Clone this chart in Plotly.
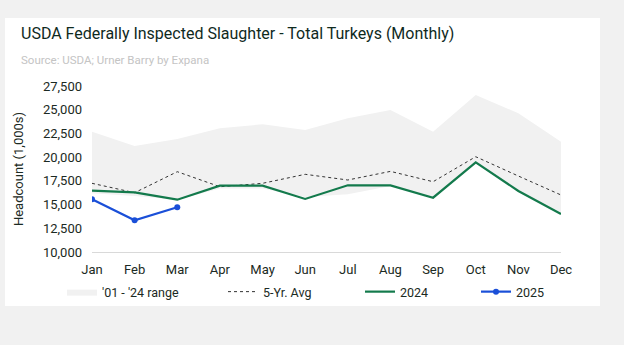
import plotly.graph_objects as go

months = ["Jan", "Feb", "Mar", "Apr", "May", "Jun", "Jul", "Aug", "Sep", "Oct", "Nov", "Dec"]

# Headcount, thousands of birds
range_high = [22680, 21170, 21910, 23040, 23460, 22860, 24090, 24970, 22680, 26550, 24620, 21630]
range_low = [16200, 15900, 15500, 16700, 16700, 15800, 16100, 16950, 15750, 19400, 16400, 14000]
avg_5yr = [17240, 16250, 18465, 16880, 17240, 18190, 17590, 18500, 17410, 20045, 18010, 16010]
y2024 = [16460, 16290, 15515, 16990, 17000, 15590, 17030, 17030, 15725, 19455, 16430, 14000]
y2025 = [15555, 13340, 14710]

y_ticks = [10000, 12500, 15000, 17500, 20000, 22500, 25000, 27500]

FONT = "Roboto, Arial, sans-serif"
INK = "#1b2a23"

fig = go.Figure()

fig.add_trace(go.Scatter(
    x=months, y=range_low, mode="lines", line=dict(width=0),
    showlegend=False, hoverinfo="skip"))
fig.add_trace(go.Scatter(
    x=months, y=range_high, mode="lines", line=dict(width=0),
    fill="tonexty", fillcolor="#f1f1f1", name="'01 - '24 range", legend="legend"))
fig.add_trace(go.Scatter(
    x=months, y=avg_5yr, mode="lines",
    line=dict(color="#333333", width=1, dash="3px,3px"), name="5-Yr. Avg",
    legend="legend2"))
fig.add_trace(go.Scatter(
    x=months, y=y2024, mode="lines",
    line=dict(color="#137a4c", width=2.2), name="2024", legend="legend3"))
fig.add_trace(go.Scatter(
    x=months[:len(y2025)], y=y2025, mode="lines+markers",
    line=dict(color="#1a4fd8", width=2.2), marker=dict(size=6, color="#1a4fd8"),
    name="2025", legend="legend4"))

# plot area in pixels: x 92..561, y 86..252
pl, pr, pt, pb = 92, 561, 86, 252
W, H = 624, 345

def px_x(px):
    return (px - pl) / (pr - pl)

def px_y(py):
    return (pb - py) / (pb - pt)

fig.add_shape(type="rect", xref="paper", yref="paper",
              x0=px_x(5), x1=px_x(600), y0=px_y(306), y1=px_y(18),
              fillcolor="white", line=dict(width=0), layer="below")

fig.add_annotation(text="USDA Federally Inspected Slaughter - Total Turkeys (Monthly)",
                   xref="paper", yref="paper", x=px_x(19), y=px_y(33),
                   xanchor="left", yanchor="middle", showarrow=False,
                   font=dict(family=FONT, size=16, color="#0f2a1e"))
fig.add_annotation(text="Source: USDA; Urner Barry by Expana",
                   xref="paper", yref="paper", x=px_x(19), y=px_y(60),
                   xanchor="left", yanchor="middle", showarrow=False,
                   font=dict(family=FONT, size=11.5, color="#c4c4c4"))


def legend_at(px):
    return dict(orientation="h", x=px_x(px), xanchor="left", y=px_y(292), yanchor="middle",
                font=dict(family=FONT, size=12.5, color=INK), bgcolor="rgba(0,0,0,0)",
                itemwidth=30)


fig.update_layout(
    width=W, height=H,
    margin=dict(l=pl, r=W - pr, t=pt, b=H - pb),
    paper_bgcolor="#f1f1f1", plot_bgcolor="white",
    font=dict(family=FONT, size=13, color=INK),
    showlegend=True,
    legend=legend_at(62),
    legend2=legend_at(223),
    legend3=legend_at(360),
    legend4=legend_at(476),
    xaxis=dict(type="category", range=[0, 11], showgrid=False, zeroline=False,
               showline=True, linecolor="#d9d9d9", linewidth=1, ticks="",
               ticklabelstandoff=5,
               tickfont=dict(family=FONT, size=13, color=INK)),
    yaxis=dict(range=[10000, 27500], tickvals=y_ticks, tickformat=",", showgrid=False,
               zeroline=False, showline=False, ticks="", ticklabelstandoff=9,
               tickfont=dict(family=FONT, size=13, color=INK),
               title=dict(text="Headcount (1,000s)", standoff=16,
                          font=dict(family=FONT, size=13, color=INK))),
)

fig.write_html("out.html")
